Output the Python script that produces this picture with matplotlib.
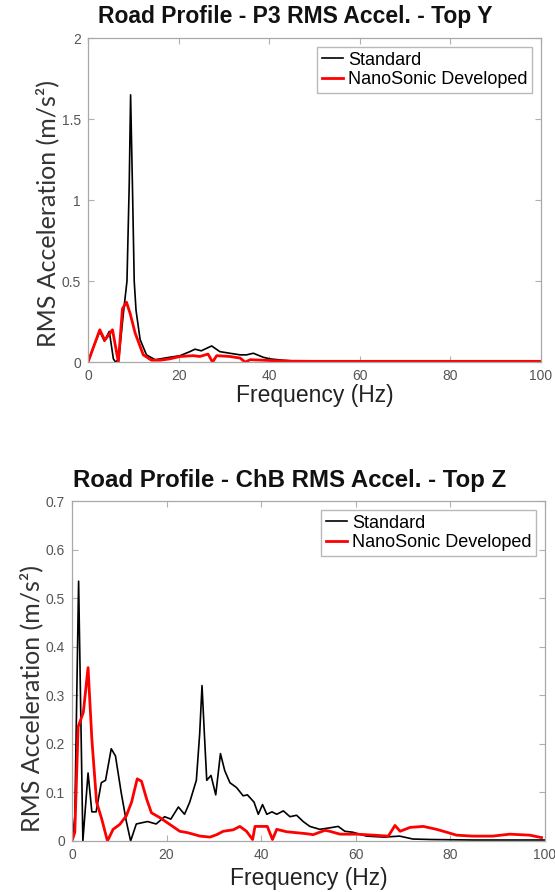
import matplotlib

matplotlib.use("Agg")

import matplotlib.pyplot as plt

plt.rcParams["font.family"] = ["Liberation Sans", "DejaVu Sans"]

# Top plot: P3, Top Y
top_std_f = [0, 1.0, 2.6, 3.6, 4.7, 5.6, 6.1, 6.8, 7.8, 8.6, 9.1, 9.4, 9.8, 10.2,
             10.6, 11.5, 12.9, 14.8, 15.9, 18.0, 20.3, 22.5, 23.6, 25.0, 27.3,
             29.1, 31.3, 33.6, 35.0, 36.5, 38.7, 40.2, 43.0, 46.0, 50, 60, 70,
             80, 90, 100]
top_std_v = [0, 0.08, 0.19, 0.13, 0.19, 0.02, 0.0, 0.02, 0.30, 0.50, 1.10, 1.65,
             1.10, 0.50, 0.32, 0.14, 0.045, 0.015, 0.02, 0.03, 0.04, 0.065, 0.08,
             0.07, 0.10, 0.065, 0.055, 0.045, 0.045, 0.055, 0.03, 0.02, 0.012,
             0.006, 0.004, 0.003, 0.003, 0.003, 0.003, 0.003]

top_nano_f = [0, 2.6, 3.7, 5.4, 6.7, 7.6, 8.5, 9.3, 10.4, 12.2, 14.0, 15.9, 18.0,
              20.3, 23.2, 24.7, 26.5, 27.5, 28.4, 31.3, 33.6, 34.7, 35.8, 40.2,
              45, 50, 60, 70, 80, 90, 100]
top_nano_v = [0, 0.20, 0.135, 0.20, 0.0, 0.33, 0.37, 0.30, 0.18, 0.045, 0.012,
              0.012, 0.02, 0.035, 0.04, 0.035, 0.05, 0.0, 0.04, 0.035, 0.025, 0.0,
              0.015, 0.01, 0.006, 0.005, 0.005, 0.005, 0.005, 0.005, 0.005]

# Bottom plot: ChB, Top Z
bot_std_f = [0, 0.6, 1.4, 2.3, 3.4, 4.2, 5.1, 6.2, 7.1, 8.3, 9.2, 10.4, 11.5,
             12.4, 13.6, 15.0, 16.0, 17.8, 19.6, 20.9, 22.5, 23.8, 24.9, 26.3,
             27.0, 27.5, 28.0, 28.5, 29.4, 30.4, 31.4, 32.3, 33.4, 34.8, 36.2,
             37.1, 38.5, 39.4, 40.3, 41.2, 42.3, 43.3, 44.7, 46.1, 47.5, 48.9,
             50.3, 52.4, 54.5, 56.3, 57.7, 59.4, 62.3, 66.0, 69.3, 72.1, 76.0,
             85, 100]
bot_std_v = [0, 0.05, 0.535, 0.0, 0.14, 0.06, 0.06, 0.12, 0.125, 0.19, 0.175,
             0.10, 0.04, 0.0, 0.035, 0.038, 0.04, 0.035, 0.05, 0.045, 0.07, 0.055,
             0.08, 0.125, 0.22, 0.32, 0.22, 0.125, 0.135, 0.095, 0.18, 0.145,
             0.12, 0.11, 0.093, 0.095, 0.08, 0.055, 0.075, 0.055, 0.06, 0.055,
             0.062, 0.05, 0.053, 0.04, 0.03, 0.024, 0.027, 0.03, 0.02, 0.018,
             0.01, 0.008, 0.01, 0.004, 0.003, 0.002, 0.002]

bot_nano_f = [0, 0.6, 1.3, 2.4, 3.4, 4.2, 5.2, 6.3, 7.5, 8.7, 10.1, 11.5, 12.6,
              13.8, 14.7, 15.8, 16.8, 18.6, 20.7, 22.8, 24.5, 27.1, 29.2, 30.6,
              32.0, 34.1, 35.5, 36.9, 38.2, 38.7, 41.3, 42.4, 43.3, 45.4, 47.5,
              49.6, 51.0, 53.5, 54.5, 56.7, 60.2, 63.8, 66.9, 68.3, 69.4, 71.5,
              74.3, 77.1, 79.6, 81.3, 84.8, 88.9, 92.6, 96.8, 99.3]
bot_nano_v = [0, 0.018, 0.235, 0.265, 0.357, 0.21, 0.08, 0.045, 0.0, 0.024,
              0.034, 0.052, 0.08, 0.128, 0.123, 0.086, 0.058, 0.048, 0.034, 0.02,
              0.017, 0.01, 0.008, 0.013, 0.02, 0.023, 0.03, 0.02, 0.003, 0.03,
              0.03, 0.003, 0.024, 0.019, 0.017, 0.015, 0.013, 0.022, 0.02, 0.014,
              0.014, 0.012, 0.01, 0.032, 0.02, 0.028, 0.03, 0.024, 0.017, 0.012,
              0.01, 0.01, 0.014, 0.012, 0.007]

x_ticks = [0, 20, 40, 60, 80, 100]
top_y_ticks = [0, 0.5, 1, 1.5, 2]
top_y_labels = ["0", "0.5", "1", "1.5", "2"]
bot_y_ticks = [0, 0.1, 0.2, 0.3, 0.4, 0.5, 0.6, 0.7]
bot_y_labels = ["0", "0.1", "0.2", "0.3", "0.4", "0.5", "0.6", "0.7"]


def style_axes(ax, yticks, ylabels, ymax, ylabel_xy, xlabel_pad):
    """MATLAB-like box axes."""
    ax.set_xlim(0, 100)
    ax.set_ylim(0, ymax)
    ax.set_xticks(x_ticks)
    ax.set_yticks(yticks)
    ax.set_yticklabels(ylabels)
    ax.tick_params(direction="in", top=True, right=True, length=4,
                   color="#b0b0b0", labelcolor="#555555", labelsize=10, pad=5)
    for spine in ax.spines.values():
        spine.set_color("#a8a8a8")
        spine.set_linewidth(0.9)
    ax.set_xlabel("Frequency (Hz)", fontsize=16.5, color="#222222",
                  labelpad=xlabel_pad)
    ax.set_ylabel("RMS Acceleration (m/s²)", fontsize=18, color="#333333",
                  family=["Lato", "DejaVu Sans"])
    ax.yaxis.set_label_coords(*ylabel_xy)
    ax.legend(loc="upper right", fontsize=13, frameon=True, fancybox=False,
              edgecolor="#a8a8a8", borderpad=0.25, handlelength=1.2,
              handletextpad=0.25, labelspacing=0.15, borderaxespad=0.5)


fig = plt.figure(figsize=(5.55, 8.92), dpi=100)

ax1 = fig.add_axes([0.1586, 0.594, 0.816, 0.3632])
ax1.plot(top_std_f, top_std_v, color="black", linewidth=1.2, label="Standard")
ax1.plot(top_nano_f, top_nano_v, color="#ff0000", linewidth=2.0,
         label="NanoSonic Developed")
style_axes(ax1, top_y_ticks, top_y_labels, 2, (-0.064, 0.46), 1)

ax2 = fig.add_axes([0.1297, 0.0572, 0.852, 0.381])
ax2.plot(bot_std_f, bot_std_v, color="black", linewidth=1.2, label="Standard")
ax2.plot(bot_nano_f, bot_nano_v, color="#ff0000", linewidth=2.0,
         label="NanoSonic Developed")
style_axes(ax2, bot_y_ticks, bot_y_labels, 0.7, (-0.06, 0.42), 4)

fig.text(295 / 555, 1 - 17 / 892, "Road Profile - P3 RMS Accel. - Top Y",
         ha="center", va="center", fontsize=16.5, fontweight="bold",
         color="#111111")
fig.text(290 / 555, 1 - 481 / 892, "Road Profile - ChB RMS Accel. - Top Z",
         ha="center", va="center", fontsize=17.3, fontweight="bold",
         color="#111111")

plt.savefig("out.png", dpi=100)
plt.close()
